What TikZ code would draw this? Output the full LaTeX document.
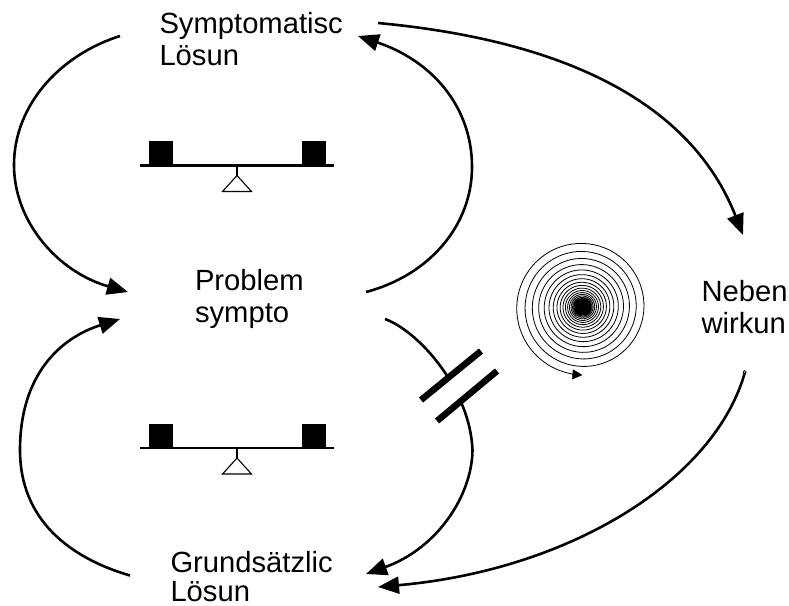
\documentclass[tikz,border=0pt]{standalone}
\usepackage{fontspec}
\setmainfont{Liberation Sans}
\usetikzlibrary{arrows.meta}
\tikzset{
  lbl/.style={inner sep=0pt,outer sep=0pt,anchor=base west,align=left,font=\fontsize{29.2}{31.5}\selectfont},
  loop/.style={line width=2.6pt,-{Triangle[length=21pt,width=17pt]}},
  beam/.style={line width=2.8pt},
  weight/.style={fill=black,draw=none},
  pivot/.style={line width=1.1pt,fill=white},
  cut/.style={line width=6.5pt},
  spiral/.style={line width=0.8pt,-{Triangle[length=10pt,width=10pt]}}
}
\newcommand{\balance}[2]{%
  \begin{scope}[shift={(#1,#2)}]
    \fill[weight] (-88,-24.5) rectangle (-64,0);
    \fill[weight] (65,-24.5) rectangle (89,0);
    \draw[beam] (-97,0) -- (97,0);
    \draw[line width=1.1pt] (0,0) -- (0,10);
    \draw[pivot] (0,10) -- (14.5,26) -- (-14.5,26) -- cycle;
  \end{scope}}
\begin{document}
\begin{tikzpicture}[x=1pt,y=-1pt]
\useasboundingbox (0,0) rectangle (789,605);
\node[lbl] (sym) at (159.5,65) {Symptomatisc\\Lösun};
\node[lbl] (prob) at (195,322) {Problem\\sympto};
\node[lbl] (neb) at (701.5,333) {Neben\\wirkun};
\node[lbl] (gru) at (170.5,601.5) {Grundsätzlic\\[-2pt]Lösun};
\coordinate (a1) at (120,36);
\coordinate (a2) at (128,292);
\coordinate (b1) at (366,292);
\coordinate (b2) at (358,36);
\coordinate (c1) at (378,23);
\coordinate (c2) at (743,235);
\coordinate (d1) at (745,372);
\coordinate (d2) at (378,587);
\coordinate (e1) at (385,319);
\coordinate (e2) at (366,574);
\coordinate (f1) at (130,575.5);
\coordinate (f2) at (120,319);
\draw[loop] (a1) .. controls (60,55) and (14,105) .. (14,165) .. controls (14,222) and (58,272) .. (a2);
\draw[loop] (b1) .. controls (430,275) and (472,225) .. (472,167) .. controls (472,105) and (430,60) .. (b2);
\draw[loop] (c1) .. controls (560,40) and (690,100) .. (c2);
\draw[loop] (d1) .. controls (715,480) and (570,570) .. (d2);
\draw[loop] (e1) .. controls (420,332) and (470,390) .. (472.5,450) .. controls (472,495) and (438,548) .. (e2);
\draw[loop] (f1) .. controls (70,558) and (20,520) .. (20,450) .. controls (20,375) and (60,338) .. (f2);
\balance{237}{165.5}
\balance{237}{448}
\fill[white] (421,400) -- (481,351) -- (497,371) -- (437,421) -- cycle;
\draw[cut] (421,400) -- (481,351);
\draw[cut] (437,421) -- (497,371);
\draw[spiral] plot[domain=10000:0,samples=2000,variable=\t]
  ({582.5-68*exp(-\t/360*0.135)*sin(\t)},{307+68*exp(-\t/360*0.135)*cos(\t)});
\fill[black] (582.5,307) circle (2.2);
\draw[line width=0.7pt,fill=white] (744.5,372) circle (1.5);
\end{tikzpicture}
\end{document}
